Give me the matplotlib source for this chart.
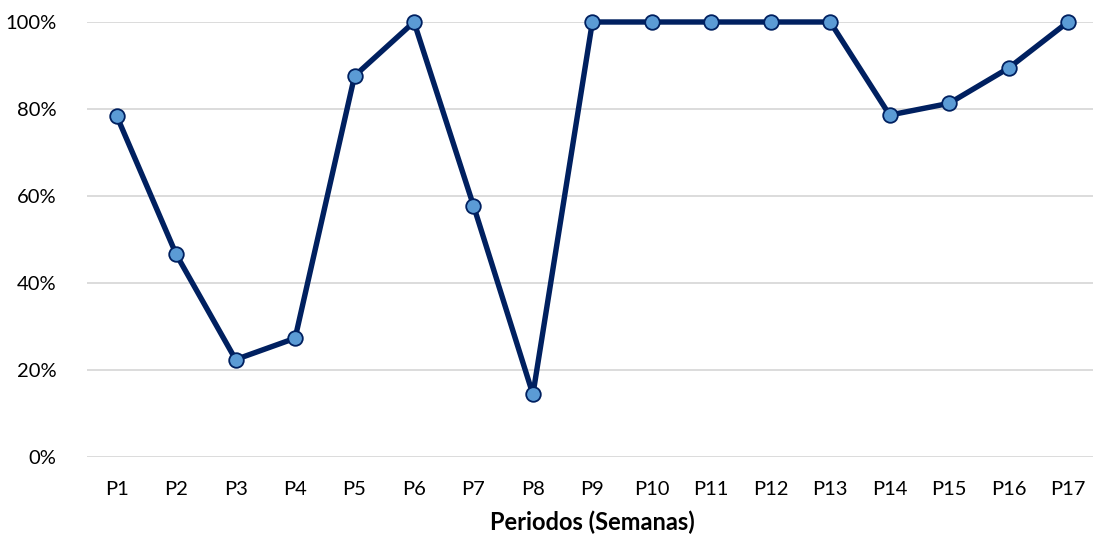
import matplotlib
matplotlib.use("Agg")
import matplotlib.pyplot as plt
from matplotlib.ticker import PercentFormatter, FixedLocator

categories = [f"P{i}" for i in range(1, 18)]
values = [78.4, 46.6, 22.4, 27.3, 87.6, 100, 57.8, 14.4, 100, 100, 100, 100, 100, 78.6, 81.3, 89.4, 100]
yticks = [0, 20, 40, 60, 80, 100]
xlabel = "Periodos (Semanas)"

plt.rcParams['font.family'] = ['Lato', 'DejaVu Sans']

fig = plt.figure(figsize=(10.93, 5.40), dpi=100)
W, H = 1093, 540
left, right, top, bottom = 87, 1097.75, 22, 457
ax = fig.add_axes([left / W, (H - bottom) / H, (right - left) / W, (bottom - top) / H])

x = list(range(len(categories)))
ax.plot(x, values, color="#002060", lw=3.9, marker="o", markersize=10.5,
        markerfacecolor="#5B9BD5", markeredgecolor="#002060", markeredgewidth=1.3,
        clip_on=False, zorder=3)

ax.set_xlim(-0.5, len(categories) - 0.5)
ax.set_ylim(0, 100)
ax.yaxis.set_major_locator(FixedLocator(yticks))
ax.yaxis.set_major_formatter(PercentFormatter(decimals=0))
ax.set_xticks(x)
ax.set_xticklabels(categories)
ax.grid(axis="y", color="#D9D9D9", lw=1.3)
ax.set_axisbelow(True)
for s in ax.spines.values():
    s.set_visible(False)
ax.tick_params(axis="both", length=0, labelsize=14.5, colors="#000000")
ax.tick_params(axis="y", pad=22)
ax.tick_params(axis="x", pad=17)
ax.set_xlabel(xlabel, fontsize=17, fontweight="bold", labelpad=9)

fig.savefig("out.png", dpi=100)
